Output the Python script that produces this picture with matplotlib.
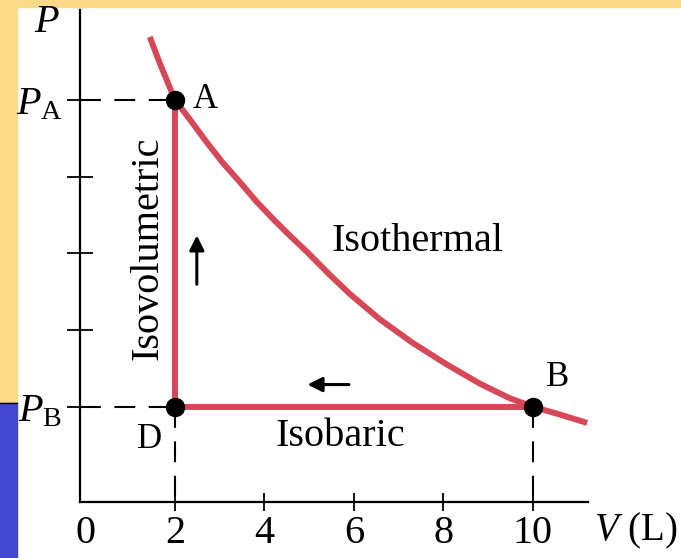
import matplotlib.pyplot as plt
from matplotlib.patches import Rectangle
from matplotlib.lines import Line2D

plt.rcParams['font.family'] = ['Liberation Serif', 'DejaVu Serif']
plt.rcParams['mathtext.fontset'] = 'custom'
plt.rcParams['mathtext.rm'] = 'Liberation Serif'
plt.rcParams['mathtext.it'] = 'Liberation Serif:italic'

# isothermal curve (V in L, P in units of P_B)
V_iso = [1.44, 1.66, 2.0, 2.34, 2.72, 3.07, 3.45, 3.83, 4.19, 4.57, 4.95, 5.46,
         5.91, 6.58, 7.32, 8.08, 8.82, 9.49, 10.0, 10.60, 11.21]
P_iso = [5.82, 5.48, 5.0, 4.74, 4.44, 4.18, 3.93, 3.67, 3.45, 3.23, 3.02, 2.72,
         2.47, 2.14, 1.83, 1.55, 1.30, 1.11, 1.0, 0.90, 0.79]

# states
names = ['A', 'B', 'D']
V_pts = [2, 10, 2]
P_pts = [5, 1, 1]

xticks = [0, 2, 4, 6, 8, 10]
yticks = [1, 2, 3, 4, 5]
ylabels = ['$P_{\\mathrm{B}}$', '', '', '', '$P_{\\mathrm{A}}$']

red = '#D64858'
fs = 29

fig = plt.figure(figsize=(6.81, 5.58), dpi=100, facecolor='white')
# slide frame
fig.patches.append(Rectangle((0, 1 - 7 / 558), 1, 7 / 558, transform=fig.transFigure,
                             color='#FFD98A', zorder=-10))
fig.patches.append(Rectangle((0, 155 / 558), 17 / 681, 1, transform=fig.transFigure,
                             color='#FFD98A', zorder=-10))
fig.patches.append(Rectangle((0, 0), 17 / 681, 155 / 558, transform=fig.transFigure,
                             color='#4248D1', zorder=-10))
fig.lines.append(Line2D([0, 17 / 681], [155 / 558, 155 / 558], transform=fig.transFigure,
                        color='black', lw=1))

ax = fig.add_axes([80 / 681, 56 / 558, 508 / 681, 492 / 558])
ax.set_facecolor('none')
ax.set_xlim(-0.12, 11.23)
ax.set_ylim(-0.24, 6.17)
for s in ['top', 'right']:
    ax.spines[s].set_visible(False)
for s in ['left', 'bottom']:
    ax.spines[s].set_linewidth(1.6)

ax.set_xticks(xticks, [str(t) for t in xticks])
ax.set_yticks(yticks, ylabels)
ax.tick_params(axis='x', direction='inout', length=13, width=1.3, labelsize=fs, pad=3)
ax.tick_params(axis='y', direction='inout', length=19, width=1.3, labelsize=fs, pad=3)
ax.xaxis.get_major_ticks()[0].tick1line.set_visible(False)

# dashed guide lines
dash = (0, (10, 6.5))
ax.plot([-0.12, 2], [5, 5], color='black', lw=1.5, ls=dash, zorder=1)
ax.plot([-0.12, 2], [1, 1], color='black', lw=1.5, ls=dash, zorder=1)
ax.plot([2, 2], [1, -0.24], color='black', lw=1.5, ls=dash, zorder=1)
ax.plot([10, 10], [1, -0.24], color='black', lw=1.5, ls=dash, zorder=1)

# process paths
ax.plot(V_iso, P_iso, color=red, lw=4.3, solid_capstyle='butt',
        solid_joinstyle='round', zorder=2)
ax.plot([2, 2, 10], [5, 1, 1], color=red, lw=4.3, solid_capstyle='butt', zorder=2)
ax.plot(V_pts, P_pts, 'o', color='black', ms=13, zorder=3)

ax.text(2.67, 5.0, 'A', fontsize=25, ha='center', va='center')
ax.text(10.56, 1.38, 'B', fontsize=25, ha='center', va='center')
ax.text(1.44, 0.57, 'D', fontsize=25, ha='center', va='center')

ax.text(7.43, 3.15, 'Isothermal', fontsize=fs, ha='center', va='center')
ax.text(5.69, 0.61, 'Isobaric', fontsize=fs, ha='center', va='center')
ax.text(1.40, 3.07, 'Isovolumetric', fontsize=fs, ha='center', va='center', rotation=90)

ax.annotate('', xy=(2.49, 3.27), xytext=(2.49, 2.56),
            arrowprops=dict(arrowstyle='-|>', color='black', lw=2.2, mutation_scale=22))
ax.annotate('', xy=(4.9, 1.29), xytext=(5.95, 1.29),
            arrowprops=dict(arrowstyle='-|>', color='black', lw=2.2, mutation_scale=22))

ax.text(13.22, -0.059, '$V$ (L)', fontsize=28, ha='right', va='center',
        transform=ax.get_xaxis_transform(), clip_on=False)
fig.text(47 / 681, 1 - 22 / 558, '$P$', fontsize=fs, ha='center', va='center')

fig.savefig('out.png', dpi=100)
